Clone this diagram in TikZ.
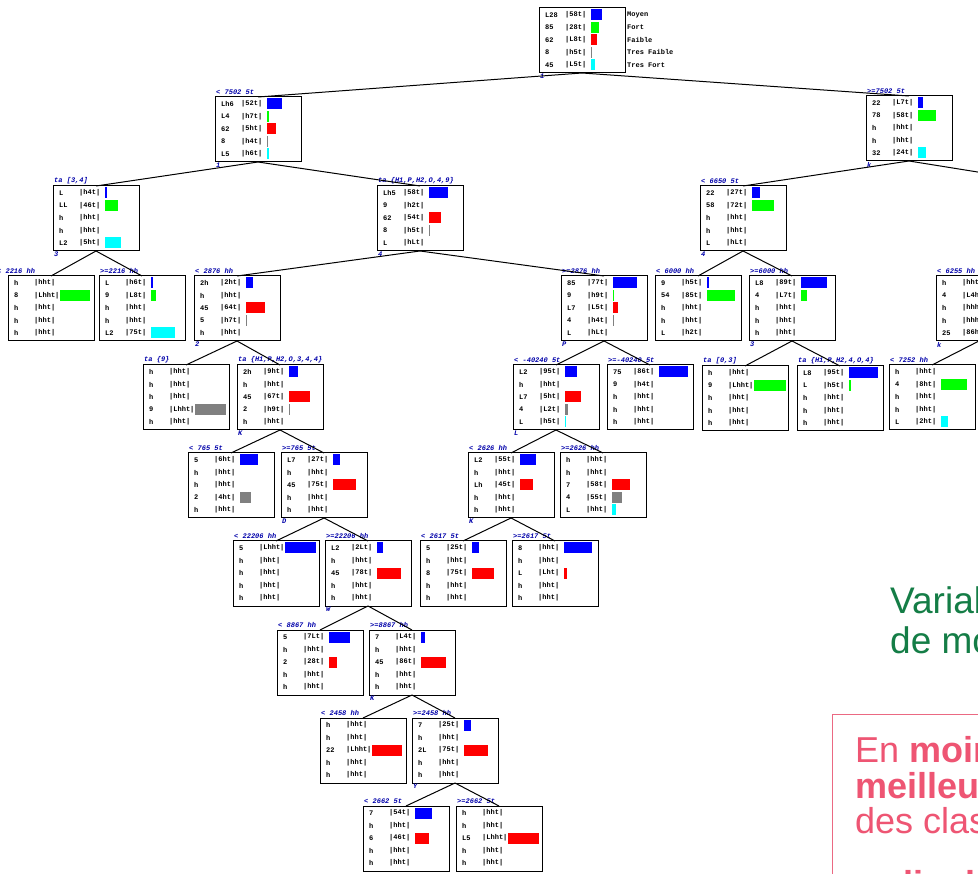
\documentclass[tikz,border=0pt]{standalone}
\usepackage{fontspec}
\setmonofont{Liberation Mono}
\newfontfamily\sansA{Liberation Sans}
\usetikzlibrary{calc}
\definecolor{labblue}{RGB}{0,0,170}
\definecolor{vgreen}{RGB}{0,255,0}
\definecolor{vgrey}{RGB}{128,128,128}
\definecolor{vcyan}{RGB}{0,255,255}
\definecolor{vblue}{RGB}{0,0,255}
\definecolor{vred}{RGB}{255,0,0}
\definecolor{txtgreen}{RGB}{20,125,70}
\definecolor{pinkline}{RGB}{235,105,130}
\definecolor{pinktxt}{RGB}{238,85,115}
\tikzset{
 tbox/.style={draw=black, line width=1pt, minimum width=86pt, minimum height=65pt, inner sep=0pt, outer sep=0pt, anchor=north west},
 cnt/.style={font=\ttfamily\bfseries\fontsize{7}{8}\selectfont, anchor=west, inner sep=0pt},
 toplab/.style={font=\ttfamily\bfseries\itshape\fontsize{7}{8}\selectfont, text=labblue, anchor=south west, inner sep=0pt},
 botlab/.style={font=\ttfamily\bfseries\itshape\fontsize{7}{8}\selectfont, text=labblue, anchor=north west, inner sep=0pt},
 conn/.style={draw=black, line width=1pt},
 gtext/.style={font=\sansA\fontsize{37}{40}\selectfont, text=txtgreen, anchor=base west, inner sep=0pt},
 ptext/.style={font=\sansA\fontsize{36}{39}\selectfont, text=pinktxt, anchor=base west, inner sep=0pt}
}
\newcommand\mkbox[5]{%
  \node[tbox] (#1) at (#2,#3) {};
  \node[toplab] (#1t) at ([xshift=1pt,yshift=2pt]#1.north west) {#4};
  \node[botlab] (#1b) at ([xshift=1pt,yshift=-1pt]#1.south west) {#5};
}
\newcommand\mkrows[2]{\foreach \ca/\pa [count=\i] in {#2}{%
  \node[cnt] (#1c\i) at ($(#1.north west)+(6,{7+12.5*(\i-1)})$) {\ca};
  \node[cnt] (#1p\i) at ($(#1.north west)+(26,{7+12.5*(\i-1)})$) {\pa};}}
\newcommand\mkbars[2]{\foreach \rr/\cl/\ww in {#2}{%
  \fill[\cl] ($(#1.north west)+(52,{1.5+12.5*(\rr-1)})$) rectangle ++(\ww,11);}}
\begin{document}
\begin{tikzpicture}[x=1pt,y=-1pt]
\useasboundingbox (0,0) rectangle (978,874);
\fill[white] (0,0) rectangle (978,874);
\clip (0,0) rectangle (978,874);

% root
\mkbox{nR}{539}{8}{}{1}
\mkrows{nR}{L28/|58t|, 85/|28t|, 62/|L8t|, 8/|h5t|, 45/|L5t|}
\mkbars{nR}{1/vblue/11, 2/vgreen/8, 3/vred/6, 4/vgrey/1, 5/vcyan/4}
\foreach \tx [count=\i] in {Moyen, Fort, Faible, Tres Faible, Tres Fort}{%
  \node[cnt] (leg\i) at (627,{15+12.5*(\i-1)}) {\tx};}

% level 1
\mkbox{nA}{215}{97}{< 7502 5t}{1}
\mkrows{nA}{Lh6/|52t|, L4/|h7t|, 62/|5ht|, 8/|h4t|, L5/|h6t|}
\mkbars{nA}{1/vblue/15, 2/vgreen/1.5, 3/vred/9, 4/vgrey/1, 5/vcyan/2}
\mkbox{nB}{866}{96}{>=7502 5t}{k}
\mkrows{nB}{22/|L7t|, 78/|58t|, h/|hht|, h/|hht|, 32/|24t|}
\mkbars{nB}{1/vblue/5, 2/vgreen/18, 5/vcyan/8}

% level 2
\mkbox{nC}{53}{186}{ta [3,4]}{3}
\mkrows{nC}{L/|h4t|, LL/|46t|, h/|hht|, h/|hht|, L2/|5ht|}
\mkbars{nC}{1/vblue/1.5, 2/vgreen/13, 5/vcyan/16}
\mkbox{nD}{377}{186}{ta \{H1,P,H2,O,4,9\}}{4}
\mkrows{nD}{Lh5/|58t|, 9/|h2t|, 62/|54t|, 8/|h5t|, L/|hLt|}
\mkbars{nD}{1/vblue/19, 3/vred/12, 4/vgrey/1}
\mkbox{nE}{700}{186}{< 6650 5t}{4}
\mkrows{nE}{22/|27t|, 58/|72t|, h/|hht|, h/|hht|, L/|hLt|}
\mkbars{nE}{1/vblue/8, 2/vgreen/22}

% level 3
\mkbox{nF}{8}{276}{}{}
\node[toplab] (nFl) at (-3,274) {< 2216 hh};
\mkrows{nF}{h/|hht|, 8/|Lhht|, h/|hht|, h/|hht|, h/|hht|}
\mkbars{nF}{2/vgreen/30}
\mkbox{nG}{99}{276}{>=2216 hh}{}
\mkrows{nG}{L/|h6t|, 9/|L8t|, h/|hht|, h/|hht|, L2/|75t|}
\mkbars{nG}{1/vblue/1.5, 2/vgreen/5, 5/vcyan/24}
\mkbox{nH}{194}{276}{< 2876 hh}{2}
\mkrows{nH}{2h/|2ht|, h/|hht|, 45/|64t|, 5/|h7t|, h/|hht|}
\mkbars{nH}{1/vblue/7, 3/vred/19, 4/vgrey/1}
\mkbox{nI}{561}{276}{>=2876 hh}{P}
\mkrows{nI}{85/|77t|, 9/|h9t|, L7/|L5t|, 4/|h4t|, L/|hLt|}
\mkbars{nI}{1/vblue/24, 2/vgreen/1, 3/vred/5, 4/vgrey/1}
\mkbox{nJ}{655}{276}{< 6000 hh}{}
\mkrows{nJ}{9/|h5t|, 54/|85t|, h/|hht|, h/|hht|, L/|h2t|}
\mkbars{nJ}{1/vblue/1.5, 2/vgreen/28}
\mkbox{nK}{749}{276}{>=6000 hh}{3}
\mkrows{nK}{L8/|89t|, 4/|L7t|, h/|hht|, h/|hht|, h/|hht|}
\mkbars{nK}{1/vblue/26, 2/vgreen/6}
\mkbox{nL}{936}{276}{< 6255 hh}{k}
\mkrows{nL}{h/|hht|, 4/|L4h|, h/|hhh|, h/|hhh|, 25/|86h|}

% level 4
\mkbox{nM}{143}{365}{ta \{9\}}{}
\mkrows{nM}{h/|hht|, h/|hht|, h/|hht|, 9/|Lhht|, h/|hht|}
\mkbars{nM}{4/vgrey/31}
\mkbox{nN}{237}{365}{ta \{H1,P,H2,O,3,4,4\}}{K}
\mkrows{nN}{2h/|9ht|, h/|hht|, 45/|67t|, 2/|h9t|, h/|hht|}
\mkbars{nN}{1/vblue/9, 3/vred/21, 4/vgrey/1}
\mkbox{nO}{513}{365}{< -40240 5t}{L}
\mkrows{nO}{L2/|95t|, h/|hht|, L7/|5ht|, 4/|L2t|, L/|h5t|}
\mkbars{nO}{1/vblue/12, 3/vred/16, 4/vgrey/3, 5/vcyan/1}
\mkbox{nP}{607}{365}{>=-40240 5t}{}
\mkrows{nP}{75/|86t|, 9/|h4t|, h/|hht|, h/|hht|, h/|hht|}
\mkbars{nP}{1/vblue/29}
\mkbox{nQ}{702}{366}{ta [0,3]}{}
\mkrows{nQ}{h/|hht|, 9/|Lhht|, h/|hht|, h/|hht|, h/|hht|}
\mkbars{nQ}{2/vgreen/32}
\mkbox{nS2}{797}{366}{ta \{H1,P,H2,4,O,4\}}{}
\mkrows{nS2}{L8/|95t|, L/|h5t|, h/|hht|, h/|hht|, h/|hht|}
\mkbars{nS2}{1/vblue/29, 2/vgreen/1.5}
\mkbox{nS}{889}{365}{< 7252 hh}{}
\mkrows{nS}{h/|hht|, 4/|8ht|, h/|hht|, h/|hht|, L/|2ht|}
\mkbars{nS}{2/vgreen/26, 5/vcyan/7}

% level 5
\mkbox{nT}{188}{453}{< 765 5t}{}
\mkrows{nT}{5/|6ht|, h/|hht|, h/|hht|, 2/|4ht|, h/|hht|}
\mkbars{nT}{1/vblue/18, 4/vgrey/11}
\mkbox{nU}{281}{453}{>=765 5t}{D}
\mkrows{nU}{L7/|27t|, h/|hht|, 45/|75t|, h/|hht|, h/|hht|}
\mkbars{nU}{1/vblue/7, 3/vred/23}
\mkbox{nV}{468}{453}{< 2626 hh}{K}
\mkrows{nV}{L2/|55t|, h/|hht|, Lh/|45t|, h/|hht|, h/|hht|}
\mkbars{nV}{1/vblue/16, 3/vred/13}
\mkbox{nW}{560}{453}{>=2626 hh}{}
\mkrows{nW}{h/|hht|, h/|hht|, 7/|58t|, 4/|55t|, L/|hht|}
\mkbars{nW}{3/vred/18, 4/vgrey/10, 5/vcyan/4}

% level 6
\mkbox{nX}{233}{541}{< 22206 hh}{}
\mkrows{nX}{5/|Lhht|, h/|hht|, h/|hht|, h/|hht|, h/|hht|}
\mkbars{nX}{1/vblue/31}
\mkbox{nY}{325}{541}{>=22206 hh}{W}
\mkrows{nY}{L2/|2Lt|, h/|hht|, 45/|78t|, h/|hht|, h/|hht|}
\mkbars{nY}{1/vblue/6, 3/vred/24}
\mkbox{nZ}{420}{541}{< 2617 5t}{}
\mkrows{nZ}{5/|25t|, h/|hht|, 8/|75t|, h/|hht|, h/|hht|}
\mkbars{nZ}{1/vblue/7, 3/vred/22}
\mkbox{nAA}{512}{541}{>=2617 5t}{}
\mkrows{nAA}{8/|hht|, h/|hht|, L/|Lht|, h/|hht|, h/|hht|}
\mkbars{nAA}{1/vblue/28, 3/vred/3}

% level 7
\mkbox{nAB}{277}{630}{< 8867 hh}{}
\mkrows{nAB}{5/|7Lt|, h/|hht|, 2/|28t|, h/|hht|, h/|hht|}
\mkbars{nAB}{1/vblue/21, 3/vred/8}
\mkbox{nAC}{369}{630}{>=8867 hh}{K}
\mkrows{nAC}{7/|L4t|, h/|hht|, 45/|86t|, h/|hht|, h/|hht|}
\mkbars{nAC}{1/vblue/4, 3/vred/25}

% level 8
\mkbox{nAD}{320}{718}{< 2458 hh}{}
\mkrows{nAD}{h/|hht|, h/|hht|, 22/|Lhht|, h/|hht|, h/|hht|}
\mkbars{nAD}{3/vred/30}
\mkbox{nAE}{412}{718}{>=2458 hh}{Y}
\mkrows{nAE}{7/|25t|, h/|hht|, 2L/|75t|, h/|hht|, h/|hht|}
\mkbars{nAE}{1/vblue/7, 3/vred/24}

% level 9
\mkbox{nAF}{363}{806}{< 2662 5t}{}
\mkrows{nAF}{7/|54t|, h/|hht|, 6/|46t|, h/|hht|, h/|hht|}
\mkbars{nAF}{1/vblue/17, 3/vred/14}
\mkbox{nAG}{456}{806}{>=2662 5t}{}
\mkrows{nAG}{h/|hht|, h/|hht|, L5/|Lhht|, h/|hht|, h/|hht|}
\mkbars{nAG}{3/vred/31}

% connectors
\coordinate (offR) at (1065,186);
\draw[conn] (nR.south) -- (nA.north);
\draw[conn] (nR.south) -- (nB.north);
\draw[conn] (nA.south) -- (nC.north);
\draw[conn] (nA.south) -- (nD.north);
\draw[conn] (nB.south) -- (nE.north);
\draw[conn] (nB.south) -- (offR);
\draw[conn] (nC.south) -- (nF.north);
\draw[conn] (nC.south) -- (nG.north);
\draw[conn] (nD.south) -- (nH.north);
\draw[conn] (nD.south) -- (nI.north);
\draw[conn] (nE.south) -- (nJ.north);
\draw[conn] (nE.south) -- (nK.north);
\draw[conn] (nH.south) -- (nM.north);
\draw[conn] (nH.south) -- (nN.north);
\draw[conn] (nI.south) -- (nO.north);
\draw[conn] (nI.south) -- (nP.north);
\draw[conn] (nK.south) -- (nQ.north);
\draw[conn] (nK.south) -- (nS2.north);
\draw[conn] (nL.south) -- (nS.north);
\draw[conn] (nN.south) -- (nT.north);
\draw[conn] (nN.south) -- (nU.north);
\draw[conn] (nO.south) -- (nV.north);
\draw[conn] (nO.south) -- (nW.north);
\draw[conn] (nU.south) -- (nX.north);
\draw[conn] (nU.south) -- (nY.north);
\draw[conn] (nV.south) -- (nZ.north);
\draw[conn] (nV.south) -- (nAA.north);
\draw[conn] (nY.south) -- (nAB.north);
\draw[conn] (nY.south) -- (nAC.north);
\draw[conn] (nAC.south) -- (nAD.north);
\draw[conn] (nAC.south) -- (nAE.north);
\draw[conn] (nAE.south) -- (nAF.north);
\draw[conn] (nAE.south) -- (nAG.north);

% green text
\node[gtext] (g1) at (890,613) {Variable};
\node[gtext] (g2) at (890,653) {de modalit\'es};

% pink box
\draw[pinkline, line width=1pt] (832,714) rectangle (1010,900);
\node[ptext] (p1) at (855,762) {En \textbf{moins}};
\node[ptext] (p2) at (855,798) {\textbf{meilleure}};
\node[ptext] (p3) at (855,833) {des classes};
\node[ptext] (p4) at (855,896) {\textbf{ordinales}};
\end{tikzpicture}
\end{document}
